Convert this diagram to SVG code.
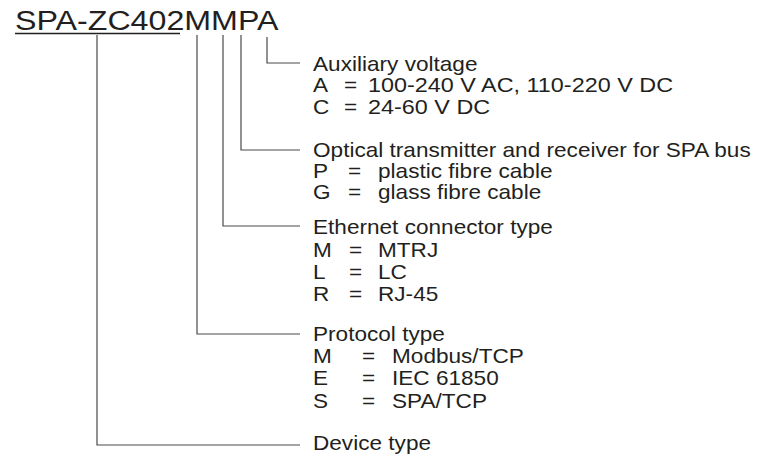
<svg xmlns="http://www.w3.org/2000/svg" width="765" height="457" viewBox="0 0 765 457">
<style>
.t{font-family:"Liberation Sans",Arial,Helvetica,sans-serif;font-size:20px;fill:#231f20}
.h{font-family:"Liberation Sans",Arial,Helvetica,sans-serif;font-size:28px;fill:#231f20}
.c{stroke:#4a4a4a;stroke-width:1.2;fill:none}
.u{stroke:#231f20;stroke-width:1.4;fill:none}
</style>
<rect width="765" height="457" fill="#ffffff"/>
<g id="title">
<text class="h" transform="translate(15 30) scale(1.15 1)">SPA-ZC402MMPA</text>
<line class="u" x1="15" y1="33.5" x2="180" y2="33.5"/>
</g>
<g id="connectors">
<path class="c" d="M267 37V63H300"/>
<path class="c" d="M241 35V150H300"/>
<path class="c" d="M223 35V226H300"/>
<path class="c" d="M197 35V334H300"/>
<path class="c" d="M97 35V445H300"/>
</g>
<g id="aux">
<text class="t" transform="translate(313 70.5) scale(1.13 1)">Auxiliary voltage</text>
<text class="t" transform="translate(313 92) scale(1.13 1)">A</text>
<text class="t" transform="translate(344 92) scale(1.13 1)">=</text>
<text class="t" transform="translate(368 92) scale(1.17 1)">100-240 V AC, 110-220 V DC</text>
<text class="t" transform="translate(313 113.8) scale(1.13 1)">C</text>
<text class="t" transform="translate(344 113.8) scale(1.13 1)">=</text>
<text class="t" transform="translate(368 113.8) scale(1.17 1)">24-60 V DC</text>
</g>
<g id="optical">
<text class="t" transform="translate(313 156.5) scale(1.13 1)">Optical transmitter and receiver for SPA bus</text>
<text class="t" transform="translate(313 177.7) scale(1.13 1)">P</text>
<text class="t" transform="translate(348 177.7) scale(1.13 1)">=</text>
<text class="t" transform="translate(378 177.7) scale(1.13 1)">plastic fibre cable</text>
<text class="t" transform="translate(313 199) scale(1.13 1)">G</text>
<text class="t" transform="translate(348 199) scale(1.13 1)">=</text>
<text class="t" transform="translate(378 199) scale(1.13 1)">glass fibre cable</text>
</g>
<g id="ethernet">
<text class="t" transform="translate(313 234) scale(1.13 1)">Ethernet connector type</text>
<text class="t" transform="translate(313 257.3) scale(1.13 1)">M</text>
<text class="t" transform="translate(349 257.3) scale(1.13 1)">=</text>
<text class="t" transform="translate(378 257.3) scale(1.13 1)">MTRJ</text>
<text class="t" transform="translate(313 279) scale(1.13 1)">L</text>
<text class="t" transform="translate(349 279) scale(1.13 1)">=</text>
<text class="t" transform="translate(378 279) scale(1.13 1)">LC</text>
<text class="t" transform="translate(313 300.5) scale(1.13 1)">R</text>
<text class="t" transform="translate(349 300.5) scale(1.13 1)">=</text>
<text class="t" transform="translate(378 300.5) scale(1.13 1)">RJ-45</text>
</g>
<g id="protocol">
<text class="t" transform="translate(313 340.5) scale(1.13 1)">Protocol type</text>
<text class="t" transform="translate(313 363.3) scale(1.13 1)">M</text>
<text class="t" transform="translate(362 363.3) scale(1.13 1)">=</text>
<text class="t" transform="translate(392 363.3) scale(1.13 1)">Modbus/TCP</text>
<text class="t" transform="translate(313 385) scale(1.13 1)">E</text>
<text class="t" transform="translate(362 385) scale(1.13 1)">=</text>
<text class="t" transform="translate(392 385) scale(1.13 1)">IEC 61850</text>
<text class="t" transform="translate(313 408) scale(1.13 1)">S</text>
<text class="t" transform="translate(362 408) scale(1.13 1)">=</text>
<text class="t" transform="translate(392 408) scale(1.13 1)">SPA/TCP</text>
</g>
<g id="device">
<text class="t" transform="translate(313 449.5) scale(1.13 1)">Device type</text>
</g>
</svg>
